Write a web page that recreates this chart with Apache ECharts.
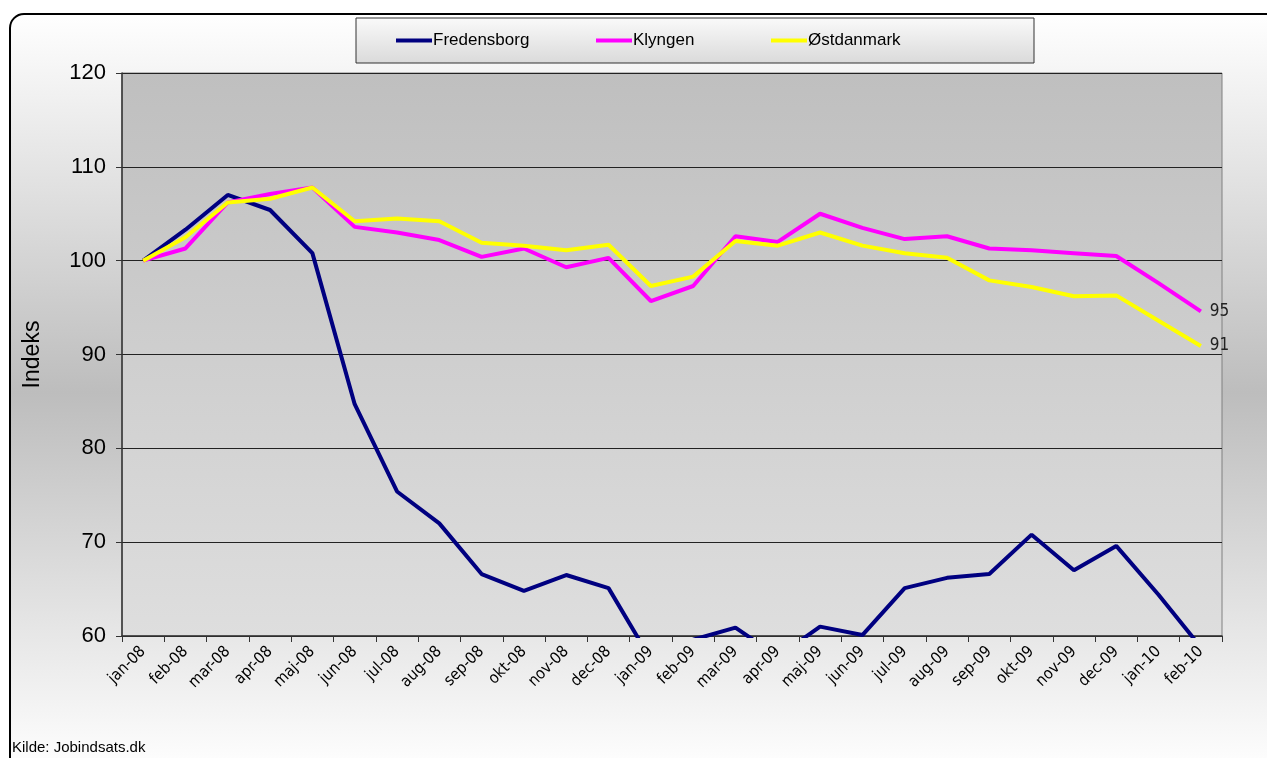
<!DOCTYPE html>
<html>
<head>
<meta charset="utf-8">
<script src="https://cdn.jsdelivr.net/npm/echarts@6/dist/echarts.min.js"></script>
<style>
  html, body { margin: 0; padding: 0; background: #fff; }
  #chart { width: 1267px; height: 758px; }
</style>
</head>
<body>
<div id="chart"></div>
<script>
// months on the x axis
var months = ['jan-08', 'feb-08', 'mar-08', 'apr-08', 'maj-08', 'jun-08', 'jul-08', 'aug-08', 'sep-08', 'okt-08', 'nov-08', 'dec-08',
  'jan-09', 'feb-09', 'mar-09', 'apr-09', 'maj-09', 'jun-09', 'jul-09', 'aug-09', 'sep-09', 'okt-09', 'nov-09', 'dec-09',
  'jan-10', 'feb-10']

// index, jan 2008 = 100
var fredensborg = [100, 103.3, 107.0, 105.4, 100.8, 84.7, 75.4, 72.0, 66.6, 64.8, 66.5, 65.1,
  57.5, 59.6, 60.9, 57.8, 61.0, 60.1, 65.1, 66.2, 66.6, 70.8, 67.0, 69.6, 64.4, 58.8]
var klyngen = [100, 101.3, 106.2, 107.1, 107.8, 103.6, 103.0, 102.2, 100.4, 101.3, 99.3, 100.3,
  95.7, 97.3, 102.6, 102.0, 105.0, 103.5, 102.3, 102.6, 101.3, 101.1, 100.8, 100.5, 97.6, 94.6]
var ostdanmark = [100, 102.5, 106.2, 106.6, 107.8, 104.2, 104.5, 104.2, 101.9, 101.6, 101.1, 101.7,
  97.3, 98.3, 102.1, 101.6, 103.0, 101.6, 100.8, 100.3, 97.9, 97.2, 96.2, 96.3, 93.6, 90.9]

var seriesNames = ['Fredensborg', 'Klyngen', 'Østdanmark']
var yTicks = { min: 60, max: 120, step: 10 }

var chart = echarts.init(document.getElementById('chart'))

function lineSeries(name, data, color, withEnd) {
  return {
    name: name,
    type: 'line',
    data: data,
    symbol: 'none',
    clip: true,
    lineStyle: { color: color, width: 4 },
    itemStyle: { color: color },
    endLabel: {
      show: withEnd,
      distance: 9,
      color: '#222',
      fontSize: 17,
      fontFamily: 'DejaVu Sans Condensed, DejaVu Sans, sans-serif',
      formatter: function (p) { return Math.round(p.value) }
    }
  }
}

// one legend per entry, so each sits in its own column like the original
function legendAt(name, left) {
  return {
    left: left,
    top: 32,
    itemWidth: 36,
    itemHeight: 4,
    icon: 'rect',
    padding: 0,
    textStyle: { fontSize: 17, color: '#000', padding: [0, 0, 0, -4] },
    data: [name]
  }
}

chart.setOption({
  animation: false,
  textStyle: { fontFamily: 'Liberation Sans, Arial, sans-serif' },
  graphic: [
    {
      // outer rounded frame
      type: 'rect',
      z: -10,
      shape: { x: 10, y: 14, width: 1280, height: 758, r: 14 },
      style: {
        fill: new echarts.graphic.LinearGradient(0, 0, 0, 1, [
          { offset: 0, color: '#ffffff' },
          { offset: 0.5, color: '#bdbdbd' },
          { offset: 1, color: '#ffffff' }
        ]),
        stroke: '#000',
        lineWidth: 2
      }
    },
    {
      // legend box
      type: 'rect',
      z: -5,
      shape: { x: 356, y: 18, width: 678, height: 45 },
      style: {
        fill: new echarts.graphic.LinearGradient(0, 0, 0, 1, [
          { offset: 0, color: '#fafafa' },
          { offset: 1, color: '#dadada' }
        ]),
        stroke: '#333',
        lineWidth: 1
      }
    },
    {
      type: 'text',
      left: 12,
      top: 740,
      style: { text: 'Kilde: Jobindsats.dk', fill: '#000', fontSize: 15, fontFamily: 'Liberation Sans, Arial, sans-serif' }
    }
  ],
  legend: [
    legendAt(seriesNames[0], 396),
    legendAt(seriesNames[1], 596),
    legendAt(seriesNames[2], 771)
  ],
  grid: {
    left: 122,
    right: 45,
    top: 73,
    bottom: 122,
    show: true,
    borderColor: '#808080',
    borderWidth: 1,
    backgroundColor: new echarts.graphic.LinearGradient(0, 0, 0, 1, [
      { offset: 0, color: '#bfbfbf' },
      { offset: 1, color: '#dedede' }
    ])
  },
  xAxis: {
    type: 'category',
    data: months,
    boundaryGap: true,
    axisLine: { lineStyle: { color: '#333', width: 1.5 } },
    axisTick: { show: true, length: 6, interval: 0, lineStyle: { color: '#333' } },
    axisLabel: {
      interval: 0,
      rotate: 45,
      margin: 13,
      fontSize: 16,
      color: '#000',
      fontFamily: 'DejaVu Sans Condensed, DejaVu Sans, sans-serif'
    }
  },
  yAxis: {
    type: 'value',
    min: yTicks.min,
    max: yTicks.max,
    interval: yTicks.step,
    name: 'Indeks',
    nameLocation: 'middle',
    nameGap: 78,
    nameTextStyle: { fontSize: 23, color: '#000' },
    axisLine: { show: true, lineStyle: { color: '#333', width: 1.5 } },
    axisTick: { show: true, length: 6, lineStyle: { color: '#333' } },
    axisLabel: { fontSize: 22, color: '#000', margin: 16 },
    splitLine: { lineStyle: { color: '#222', width: 1 } }
  },
  series: [
    lineSeries(seriesNames[0], fredensborg, '#000080', false),
    lineSeries(seriesNames[1], klyngen, '#ff00ff', true),
    lineSeries(seriesNames[2], ostdanmark, '#ffff00', true)
  ]
})
</script>
</body>
</html>
